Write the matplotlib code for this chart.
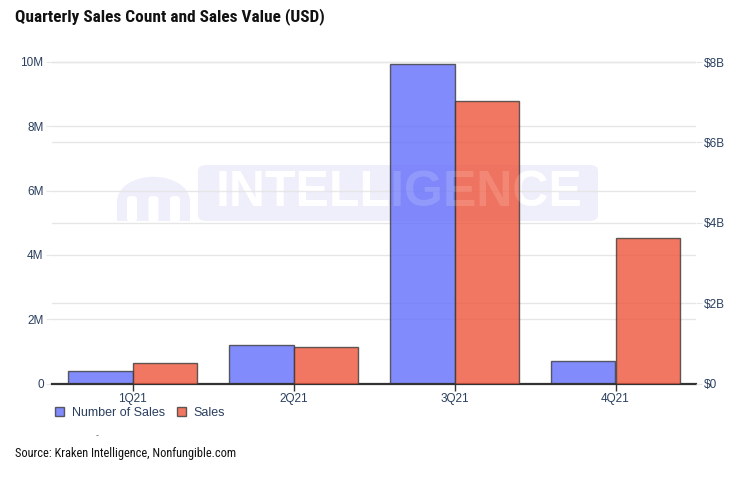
#!/usr/bin/env python3
"""Quarterly NFT sales count and sales value, twin-axis grouped bars."""

import matplotlib

matplotlib.use("Agg")
import matplotlib.pyplot as plt
import numpy as np
from matplotlib import font_manager
from matplotlib.patches import FancyBboxPatch, Rectangle, Wedge
from matplotlib.ticker import FuncFormatter

quarters = ["1Q21", "2Q21", "3Q21", "4Q21"]
sales_count = [0.40e6, 1.19e6, 9.94e6, 0.71e6]
sales_value = [0.51e9, 0.92e9, 7.04e9, 3.63e9]
count_ticks = [0, 2e6, 4e6, 6e6, 8e6, 10e6]
value_ticks = [0, 2e9, 4e9, 6e9, 8e9]

W, H = 743, 493
BLUE = "#636efa"
RED = "#ef553b"
TICK_COLOR = "#2a3f5f"
GRID = "#e6e6e6"


def pick_font(*names):
    installed = {f.name for f in font_manager.fontManager.ttflist}
    for name in names:
        if name in installed:
            return name
    return "DejaVu Sans"


NARROW = pick_font("Liberation Sans Narrow", "Roboto Condensed", "Roboto")
PLAIN = pick_font("Liberation Sans", "Arial", "DejaVu Sans")


def fx(px):
    return px / W


def fy(py):
    return 1 - py / H


def fmt_count(v, _pos):
    return "0" if v == 0 else f"{v / 1e6:g}M"


def fmt_value(v, _pos):
    return "$0" if v == 0 else f"${v / 1e9:g}B"


fig = plt.figure(figsize=(W / 100, H / 100), dpi=100)
ax_left, ax_right_px, ax_top, ax_bot = 52, 696, 52, 383.5
ax = fig.add_axes([fx(ax_left), fy(ax_bot), fx(ax_right_px - ax_left), (ax_bot - ax_top) / H])
ax2 = ax.twinx()

scale = (ax_bot - ax_top) / (ax_bot - 62)
ax.set_ylim(0, 10e6 * scale)
ax2.set_ylim(0, 8e9 * scale)
ax.set_xlim(-0.5, 3.5)

x = np.arange(len(quarters))
bw = 0.4
ax.bar(x - bw / 2, sales_count, bw, color=BLUE, alpha=0.8, edgecolor="#3a3a3a",
       linewidth=1, zorder=3, label="Number of Sales")
ax2.bar(x + bw / 2, sales_value, bw, color=RED, alpha=0.8, edgecolor="#3a3a3a",
        linewidth=1, zorder=3, label="Sales")

# all gridlines live on the left axes so they stay behind both bar sets
ratio = 10e6 / 8e9
for t in count_ticks[1:]:
    ax.axhline(t, color=GRID, linewidth=1, zorder=0.5)
for t in value_ticks[1:]:
    ax.axhline(t * ratio, color=GRID, linewidth=1, zorder=0.5)

for a, ticks, fmt in ((ax, count_ticks, fmt_count), (ax2, value_ticks, fmt_value)):
    a.set_yticks(ticks)
    a.yaxis.set_major_formatter(FuncFormatter(fmt))
    a.tick_params(axis="y", length=4, color=GRID, labelsize=8.5, labelcolor=TICK_COLOR, pad=2)
    for s in a.spines.values():
        s.set_visible(False)
    for lbl in a.get_yticklabels():
        lbl.set_fontfamily(PLAIN)
ax2.patch.set_visible(False)

ax.set_xticks(x)
ax.set_xticklabels(quarters, fontsize=8.5, color=TICK_COLOR, fontfamily=PLAIN)
ax.tick_params(axis="x", length=5, width=1, color="#333333", pad=2)
ax.spines["bottom"].set_visible(True)
ax.spines["bottom"].set_color("#333333")
ax.spines["bottom"].set_linewidth(1.6)
ax.spines["bottom"].set_zorder(5)
ax2.tick_params(axis="x", length=0)

# watermark, drawn in figure pixels behind the bars
wm = "#efeefb"
ax.add_patch(FancyBboxPatch((fx(198), fy(221)), fx(400), (221 - 165) / H,
                            boxstyle="round,pad=0,rounding_size=0.012",
                            transform=fig.transFigure, facecolor=wm, edgecolor="none",
                            zorder=0.2, clip_on=False))
ax.add_patch(Wedge((fx(153.5), fy(201)), fx(36.5), 0, 180, transform=fig.transFigure,
                   facecolor=wm, edgecolor="none", zorder=0.2, clip_on=False))
ax.add_patch(Rectangle((fx(117), fy(221)), fx(73), 20 / H, transform=fig.transFigure,
                       facecolor=wm, edgecolor="none", zorder=0.2, clip_on=False))
for cx in (132, 153.5, 175):
    ax.add_patch(FancyBboxPatch((fx(cx - 5), fy(222)), fx(10), 26 / H,
                                boxstyle="round,pad=0,rounding_size=0.006",
                                transform=fig.transFigure, facecolor="white",
                                edgecolor="none", zorder=0.25, clip_on=False))
for a, z, alpha in ((ax, 0.3, 1.0), (ax2, 6, 0.12)):
    a.text(fx(399), fy(193), "INTELLIGENCE", ha="center", va="center", color="white",
           fontsize=36, fontweight="bold", fontfamily=PLAIN, alpha=alpha, zorder=z,
           transform=fig.transFigure, clip_on=False)

fig.text(fx(15), fy(17), "Quarterly Sales Count and Sales Value (USD)", fontsize=12.4,
         fontweight="bold", fontfamily=NARROW, va="center", ha="left", color="#111111")

h1, l1 = ax.get_legend_handles_labels()
h2, l2 = ax2.get_legend_handles_labels()
fig.legend(h1 + h2, l1 + l2, loc="center left", bbox_to_anchor=(fx(44), fy(413)),
           ncol=2, frameon=False, handlelength=0.7, handleheight=0.7,
           handletextpad=0.6, columnspacing=1.0, labelcolor=TICK_COLOR,
           prop={"family": PLAIN, "size": 9})

fig.text(fx(97), fy(436), "-", fontsize=6, color="#666666", ha="center", va="center")
fig.text(fx(15), fy(453), "Source: Kraken Intelligence, Nonfungible.com", fontsize=8.9,
         fontfamily=NARROW, va="center", ha="left", color="#111111")

fig.savefig("out.png", dpi=100)
